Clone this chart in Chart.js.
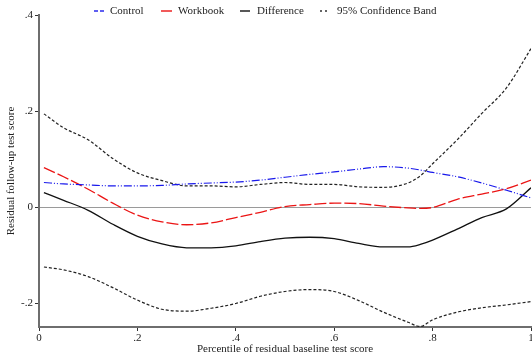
<!DOCTYPE html>
<html>
<head>
<meta charset="utf-8">
<script src="https://cdn.jsdelivr.net/npm/chart.js@4"></script>
<style>
html,body{margin:0;padding:0;background:#fff;}
#wrap{position:relative;width:532px;height:358px;}
</style>
</head>
<body>
<div id="wrap"><canvas id="c" width="532" height="358"></canvas></div>
<script>
const xs        = [0.01, 0.05, 0.10, 0.15, 0.20, 0.25, 0.30, 0.35, 0.40, 0.45, 0.50, 0.55, 0.60, 0.65, 0.70, 0.75, 0.775, 0.80, 0.85, 0.90, 0.95, 1.00];
const control   = [0.051,0.048,0.046,0.044,0.044,0.045,0.048,0.050,0.052,0.056,0.062,0.068,0.073,0.079,0.084,0.081,0.077,0.072,0.063,0.050,0.035,0.019];
const workbook  = [0.082,0.063,0.037,0.008,-0.017,-0.031,-0.037,-0.033,-0.022,-0.011,0.001,0.005,0.008,0.007,0.002,-0.002,-0.003,-0.001,0.016,0.027,0.038,0.056];
const difference= [0.030,0.014,-0.007,-0.036,-0.061,-0.077,-0.085,-0.085,-0.081,-0.072,-0.065,-0.063,-0.066,-0.076,-0.083,-0.083,-0.078,-0.069,-0.046,-0.022,-0.004,0.040];
const ciUpper   = [0.194,0.165,0.140,0.101,0.071,0.055,0.044,0.044,0.042,0.047,0.051,0.047,0.047,0.042,0.041,0.050,0.065,0.090,0.140,0.195,0.248,0.330];
const ciLower   = [-0.125,-0.131,-0.145,-0.168,-0.194,-0.213,-0.217,-0.211,-0.201,-0.186,-0.176,-0.172,-0.176,-0.195,-0.219,-0.240,-0.249,-0.235,-0.219,-0.210,-0.204,-0.197];
const seriesNames = ['Control', 'Workbook', 'Difference', '95% Confidence Band'];
const xTicks = [0, 0.2, 0.4, 0.6, 0.8, 1];
const xTickLabels = ['0', '.2', '.4', '.6', '.8', '1'];
const yTicks = [-0.2, 0, 0.2, 0.4];
const yTickLabels = ['-.2', '0', '.2', '.4'];
const xTitle = 'Percentile of residual baseline test score';
const yTitle = 'Residual follow-up test score';

const FONT = '"Liberation Serif", "DejaVu Serif", serif';
const pts = arr => xs.map((x, i) => ({x: x, y: arr[i]}));

const styles = [
  {color: 'rgb(25,25,235)', dash: [8,2,1,2,1,2], width: 1.2},
  {color: 'rgb(235,20,20)', dash: [12,3], width: 1.3},
  {color: '#111111', dash: [], width: 1.3},
  {color: '#222222', dash: [3,2], width: 1.2}
];

const datasets = [
  {label: seriesNames[0], data: pts(control)},
  {label: seriesNames[1], data: pts(workbook)},
  {label: seriesNames[2], data: pts(difference)},
  {label: seriesNames[3], data: pts(ciUpper)},
  {label: seriesNames[3] + ' (lower)', data: pts(ciLower)}
].map((d, i) => {
  const s = styles[Math.min(i, 3)];
  return Object.assign(d, {
    borderColor: s.color, borderDash: s.dash, borderWidth: s.width,
    pointRadius: 0, fill: false, tension: 0.35, cubicInterpolationMode: 'monotone'
  });
});

const legendPlugin = {
  id: 'customLegend',
  afterDraw(chart) {
    const ctx = chart.ctx;
    const y = 11;
    const items = [
      {s: styles[0], x0: 94, x1: 104, tx: 110},
      {s: styles[1], x0: 161, x1: 172, tx: 178},
      {s: styles[2], x0: 240, x1: 250, tx: 257},
      {s: styles[3], x0: 320, x1: 328, tx: 337}
    ];
    ctx.save();
    ctx.font = '11px ' + FONT;
    ctx.textBaseline = 'middle';
    items.forEach((it, i) => {
      ctx.beginPath();
      ctx.strokeStyle = it.s.color;
      ctx.globalAlpha = 0.7;
      ctx.lineWidth = 2;
      ctx.setLineDash(i === 0 ? [4,2] : (i === 3 ? [2,3] : []));
      ctx.moveTo(it.x0, y); ctx.lineTo(it.x1, y);
      ctx.stroke();
      ctx.globalAlpha = 1;
      ctx.setLineDash([]);
      ctx.fillStyle = '#222';
      ctx.fillText(seriesNames[i], it.tx, y);
    });
    ctx.restore();
  }
};

new Chart(document.getElementById('c'), {
  type: 'line',
  data: {datasets: datasets},
  plugins: [legendPlugin],
  options: {
    responsive: false,
    animation: false,
    layout: {padding: {top: 15, right: 1, left: 0, bottom: 0}},
    plugins: {legend: {display: false}, tooltip: {enabled: false}},
    scales: {
      x: {
        type: 'linear', min: 0, max: 1,
        afterBuildTicks: s => { s.ticks = xTicks.map(v => ({value: v})); },
        afterFit: s => { s.height = 31; s.paddingLeft = 0; s.paddingRight = 0; },
        ticks: {
          color: '#222', font: {family: FONT, size: 11}, padding: 1, maxRotation: 0,
          callback: (v) => { const i = xTicks.indexOf(v); return i >= 0 ? xTickLabels[i] : ''; }
        },
        grid: {drawOnChartArea: false, tickLength: 4, tickColor: '#333', tickWidth: 1},
        border: {color: '#6e6e6e', width: 2},
        title: {display: true, text: xTitle, color: '#222', font: {family: FONT, size: 11}, padding: {top: 0, bottom: 2}}
      },
      y: {
        type: 'linear', min: -0.25, max: 0.4,
        afterBuildTicks: s => { s.ticks = yTicks.map(v => ({value: v})); },
        afterFit: s => { s.width = 39; s.paddingTop = 0; s.paddingBottom = 0; },
        ticks: {
          color: '#222', font: {family: FONT, size: 11}, padding: 2,
          callback: (v) => { const i = yTicks.indexOf(v); return i >= 0 ? yTickLabels[i] : ''; }
        },
        grid: {
          color: c => (c.tick && c.tick.value === 0) ? '#9a9a9a' : 'rgba(0,0,0,0)',
          lineWidth: 1, tickLength: 4, tickColor: '#333', tickWidth: 1
        },
        border: {color: '#6e6e6e', width: 2},
        title: {display: true, text: yTitle, color: '#222', font: {family: FONT, size: 11}, padding: {top: 5, bottom: 0}}
      }
    }
  }
});
</script>
</body>
</html>
